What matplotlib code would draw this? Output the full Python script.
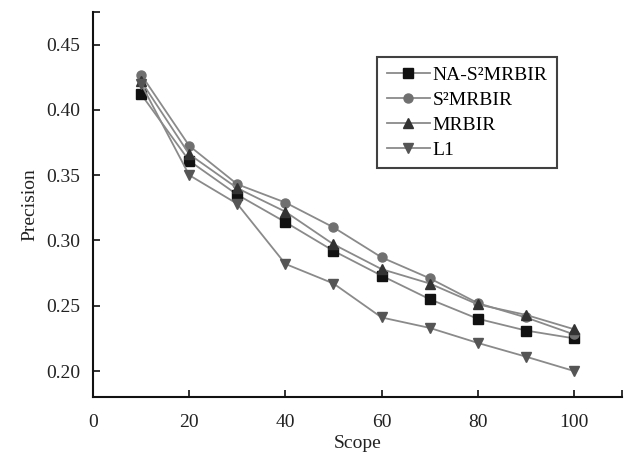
import matplotlib
matplotlib.use("Agg")
import matplotlib.pyplot as plt

plt.rcParams['font.family'] = ['Liberation Serif', 'DejaVu Serif']

scope = [10, 20, 30, 40, 50, 60, 70, 80, 90, 100]
na_s2mrbir = [0.412, 0.361, 0.335, 0.314, 0.292, 0.273, 0.255, 0.240, 0.231, 0.225]
s2mrbir = [0.427, 0.3725, 0.343, 0.329, 0.310, 0.287, 0.271, 0.252, 0.241, 0.228]
mrbir = [0.422, 0.366, 0.340, 0.322, 0.297, 0.278, 0.267, 0.251, 0.243, 0.232]
l1 = [0.420, 0.350, 0.328, 0.282, 0.267, 0.241, 0.233, 0.2215, 0.211, 0.200]

labels = ['NA-S²MRBIR', 'S²MRBIR', 'MRBIR', 'L1']
xticks = [0, 20, 40, 60, 80, 100]
yticks = [0.20, 0.25, 0.30, 0.35, 0.40, 0.45]

fig = plt.figure(figsize=(6.24, 4.57), dpi=100)
ax = fig.add_axes([0.149, 0.131, 0.848, 0.843])

line_col = '#8a8a8a'
series = [
    (na_s2mrbir, 's', '#111111', labels[0]),
    (s2mrbir, 'o', '#707070', labels[1]),
    (mrbir, '^', '#333333', labels[2]),
    (l1, 'v', '#555555', labels[3]),
]
for vals, mk, mc, lab in series:
    ax.plot(scope, vals, color=line_col, lw=1.3, marker=mk, ms=6.5,
            mfc=mc, mec=mc, label=lab)

fs = 14
ax.set_xlim(0, 110)
ax.set_ylim(0.18, 0.475)
ax.set_xticks(xticks)
ax.set_xticklabels([str(t) for t in xticks])
ax.set_yticks(yticks)
ax.set_yticklabels([f"{t:.2f}" for t in yticks])
ax.set_xticks([110], minor=True)
ax.set_yticks([0.475], minor=True)
ax.tick_params(which='both', direction='in', length=5, width=1.3, labelsize=fs, colors='#222222')
ax.tick_params(axis='x', pad=12)
ax.tick_params(axis='y', pad=9)

for s in ['top', 'right']:
    ax.spines[s].set_visible(False)
for s in ['left', 'bottom']:
    ax.spines[s].set_linewidth(1.5)
    ax.spines[s].set_color('#111111')

ax.set_xlabel('Scope', fontsize=fs, color='#222222', labelpad=3)
ax.set_ylabel('Precision', fontsize=fs, color='#222222', labelpad=6)

leg = ax.legend(loc='upper left', bbox_to_anchor=(0.537, 0.883), fontsize=fs,
                frameon=True, fancybox=False, edgecolor='#111111',
                handlelength=2.2, handletextpad=0.15, borderpad=0.5,
                labelspacing=0.37, borderaxespad=0)
leg.get_frame().set_linewidth(1.5)

fig.savefig('out.png', dpi=100)
